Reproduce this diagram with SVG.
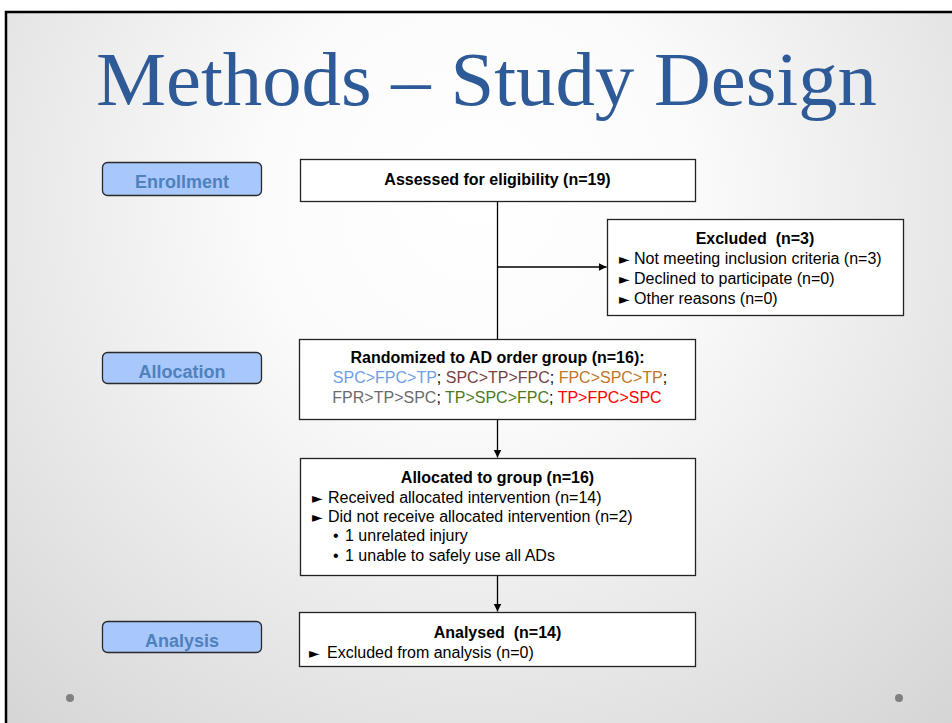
<svg xmlns="http://www.w3.org/2000/svg" width="952" height="723" viewBox="0 0 952 723">
<defs>
<radialGradient id="bg" gradientUnits="userSpaceOnUse" cx="476" cy="200" r="720">
<stop offset="0" stop-color="#ffffff"/>
<stop offset="0.3" stop-color="#fbfbfb"/>
<stop offset="1" stop-color="#d4d4d4"/>
</radialGradient>
<marker id="ah" markerUnits="userSpaceOnUse" markerWidth="9" markerHeight="9" refX="8" refY="4" orient="auto">
<path d="M0,0 L8,4 L0,8 z" fill="#000"/>
</marker>
<style>
.box{fill:#ffffff;stroke:#222;stroke-width:1.3}
.lab{fill:#a8c7fa;stroke:#2a2a2a;stroke-width:1.3}
.labt{font-family:"Liberation Sans",Arial,sans-serif;font-weight:bold;font-size:18px;fill:#4f81bd;text-anchor:middle}
.t{font-family:"Liberation Sans",Arial,sans-serif;font-size:16px;fill:#000}
.b{font-weight:bold}
.c{text-anchor:middle}
.tri{font-family:"DejaVu Sans",sans-serif;font-size:14px;fill:#000}
.conn{stroke:#000;stroke-width:1.3;fill:none}
</style>
</defs>
<rect x="0" y="0" width="952" height="723" fill="#ffffff"/>
<rect x="6" y="12" width="946" height="711" fill="url(#bg)"/>
<path d="M6,723 L6,12 L952,12" fill="none" stroke="#000" stroke-width="2.5"/>
<text x="96" y="105" font-family="'Liberation Serif','Times New Roman',serif" font-size="76" fill="#2e5a97" textLength="781" lengthAdjust="spacingAndGlyphs">Methods – Study Design</text>
<circle cx="70" cy="698" r="4" fill="#808080"/>
<circle cx="899" cy="698" r="4" fill="#808080"/>

<g id="label-enrollment">
<rect class="lab" x="102.5" y="162.5" width="159" height="33" rx="5"/>
<text class="labt" x="182" y="188">Enrollment</text>
</g>
<g id="label-allocation">
<rect class="lab" x="102.5" y="352.5" width="159" height="31" rx="5"/>
<text class="labt" x="182" y="378">Allocation</text>
</g>
<g id="label-analysis">
<rect class="lab" x="102.5" y="621.5" width="159" height="31" rx="5"/>
<text class="labt" x="182" y="647">Analysis</text>
</g>

<g id="connectors">
<line class="conn" x1="497.5" y1="201" x2="497.5" y2="339"/>
<line class="conn" x1="497.5" y1="267" x2="606.5" y2="267" marker-end="url(#ah)"/>
<line class="conn" x1="497.5" y1="419" x2="497.5" y2="457.5" marker-end="url(#ah)"/>
<line class="conn" x1="497.5" y1="575" x2="497.5" y2="611.5" marker-end="url(#ah)"/>
</g>

<g id="assessed">
<rect class="box" x="300.5" y="159.5" width="395" height="42"/>
<text class="t b c" x="497.5" y="185">Assessed for eligibility (n=19)</text>
</g>

<g id="excluded">
<rect class="box" x="607.5" y="219.5" width="296" height="96"/>
<text class="t b c" x="755" y="244" xml:space="preserve">Excluded  (n=3)</text>
<text class="tri" x="619" y="264">►</text><text class="t" x="634" y="264">Not meeting inclusion criteria (n=3)</text>
<text class="tri" x="619" y="284">►</text><text class="t" x="634" y="284">Declined to participate (n=0)</text>
<text class="tri" x="619" y="304">►</text><text class="t" x="634" y="304">Other reasons (n=0)</text>
</g>

<g id="randomized">
<rect class="box" x="299.5" y="339.5" width="396" height="80"/>
<text class="t b c" x="497.5" y="363">Randomized to AD order group (n=16):</text>
<text class="t c" x="500" y="383"><tspan fill="#6d9ee6">SPC&gt;FPC&gt;TP</tspan>; <tspan fill="#7b3f3f">SPC&gt;TP&gt;FPC</tspan>; <tspan fill="#c0752a">FPC&gt;SPC&gt;TP</tspan>;</text>
<text class="t c" x="497" y="403"><tspan fill="#6b6b6b">FPR&gt;TP&gt;SPC</tspan>; <tspan fill="#4e7a1e">TP&gt;SPC&gt;FPC</tspan>; <tspan fill="#ff0000">TP&gt;FPC&gt;SPC</tspan></text>
</g>

<g id="allocated">
<rect class="box" x="300.5" y="458.5" width="395" height="117"/>
<text class="t b c" x="497.5" y="483">Allocated to group (n=16)</text>
<text class="tri" x="312" y="503">►</text><text class="t" x="328" y="503">Received allocated intervention (n=14)</text>
<text class="tri" x="312" y="522">►</text><text class="t" x="328" y="522">Did not receive allocated intervention (n=2)</text>
<text class="t" x="333" y="541">•</text><text class="t" x="345" y="541">1 unrelated injury</text>
<text class="t" x="333" y="561">•</text><text class="t" x="345" y="561">1 unable to safely use all ADs</text>
</g>

<g id="analysed">
<rect class="box" x="299.5" y="612.5" width="396" height="54"/>
<text class="t b c" x="497.5" y="638" xml:space="preserve">Analysed  (n=14)</text>
<text class="tri" x="309" y="658">►</text><text class="t" x="327" y="658">Excluded from analysis (n=0)</text>
</g>
</svg>
